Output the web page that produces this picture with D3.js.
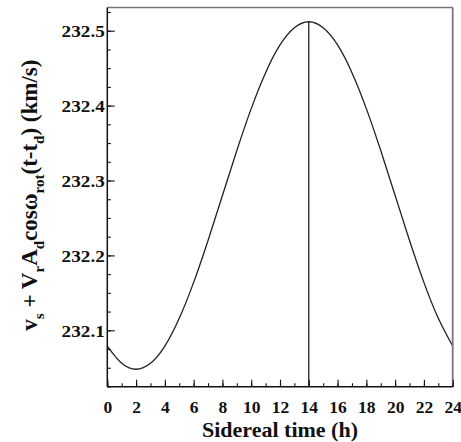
<!DOCTYPE html>
<html>
<head>
<meta charset="utf-8">
<script src="https://cdn.jsdelivr.net/npm/d3@7"></script>
<style>
  html, body { margin: 0; padding: 0; background: #fff; }
  svg { display: block; }
  text { font-family: "Liberation Serif", "Times New Roman", serif; font-weight: bold; fill: #111; }
</style>
</head>
<body>
<svg id="chart" width="461" height="442"></svg>
<script>
// Data (sidereal hour -> velocity, km/s)
const hours = [0, 1, 2, 3, 4, 5, 6, 7, 8, 9, 10, 11, 12, 13, 14, 15, 16, 17, 18, 19, 20, 21, 22, 23, 24];
const velocity = [232.079, 232.056, 232.048, 232.056, 232.079, 232.116, 232.164, 232.220, 232.280,
                  232.340, 232.396, 232.444, 232.481, 232.504, 232.512, 232.504, 232.481, 232.444,
                  232.396, 232.340, 232.280, 232.220, 232.164, 232.116, 232.079];
const peakHour = [14];
const xTickLabels = [0, 2, 4, 6, 8, 10, 12, 14, 16, 18, 20, 22, 24];
const yTickLabels = [232.1, 232.2, 232.3, 232.4, 232.5];
const xDomain = [0, 24];
const yDomain = [232.0247, 232.531];

const svg = d3.select("#chart");
const margin = { left: 107.3, top: 7.5, right: 461 - 452.7, bottom: 442 - 386.7 };
const W = 461 - margin.left - margin.right;
const H = 442 - margin.top - margin.bottom;
const g = svg.append("g").attr("transform", `translate(${margin.left},${margin.top})`);

const x = d3.scaleLinear().domain(xDomain).range([0, W]);
const y = d3.scaleLinear().domain(yDomain).range([H, 0]);

const data = hours.map((h, i) => ({ h, v: velocity[i] }));

// curve
const line = d3.line().x(d => x(d.h)).y(d => y(d.v)).curve(d3.curveNatural);
g.append("path").datum(data).attr("d", line)
  .attr("fill", "none").attr("stroke", "#222").attr("stroke-width", 1.3);

// vertical line at peak
peakHour.forEach(p => {
  const i = hours.indexOf(p);
  g.append("line").attr("x1", x(p)).attr("x2", x(p))
    .attr("y1", y(velocity[i])).attr("y2", H)
    .attr("stroke", "#111").attr("stroke-width", 1.2);
});

// frame: top and right in gray
g.append("line").attr("x1", 0).attr("x2", W).attr("y1", 0).attr("y2", 0)
  .attr("stroke", "#777").attr("stroke-width", 1.5);
g.append("line").attr("x1", W).attr("x2", W).attr("y1", 0).attr("y2", H)
  .attr("stroke", "#777").attr("stroke-width", 1.8);

// x axis
const xMinor = d3.range(xDomain[0], xDomain[1] + 1, 1);
const xAxis = g.append("g").attr("transform", `translate(0,${H})`);
xAxis.append("g").call(d3.axisBottom(x).tickValues(xMinor).tickSize(-3.5).tickFormat(""))
  .call(s => s.select(".domain").remove());
xAxis.append("g").call(d3.axisBottom(x).tickValues(xTickLabels).tickSize(-7).tickPadding(14)
    .tickFormat(d3.format("d")))
  .call(s => s.select(".domain").remove());
xAxis.append("line").attr("x1", 0).attr("x2", W).attr("stroke", "#111").attr("stroke-width", 1.5);
xAxis.selectAll("text").attr("font-size", 17.5).attr("dy", "0.71em")
  .attr("fill", "#111").attr("font-family", "Liberation Serif").attr("font-weight", "bold");
xAxis.selectAll(".tick line").attr("stroke", "#111").attr("stroke-width", 1.1);

// y axis
const yMinor = d3.range(0, 21).map(i => 232.025 + i * 0.025);
const yAxis = g.append("g");
yAxis.append("g").call(d3.axisLeft(y).tickValues(yMinor).tickSize(-3.5).tickFormat(""))
  .call(s => s.select(".domain").remove());
const yMaj = yAxis.append("g").call(d3.axisLeft(y).tickValues(yTickLabels).tickSize(-7.5).tickFormat(d3.format(".1f")))
  .call(s => s.select(".domain").remove());
yMaj.selectAll("text").remove();
yAxis.append("line").attr("y1", 0).attr("y2", H).attr("stroke", "#111").attr("stroke-width", 1.5);
yAxis.selectAll(".tick line").attr("stroke", "#111").attr("stroke-width", 1.1);
yAxis.selectAll("text.ylab").data(yTickLabels).enter().append("text")
  .attr("class", "ylab")
  .attr("transform", d => `translate(-2.5,${y(d) + 6.2}) scale(1.13,1)`)
  .attr("text-anchor", "end").attr("font-size", 17)
  .text(d => d3.format(".1f")(d));

// x title
svg.append("text").attr("x", margin.left + W / 2).attr("y", 436.5)
  .attr("text-anchor", "middle").attr("font-size", 22)
  .text("Sidereal time (h)");

// y title
const yt = svg.append("text")
  .attr("transform", `translate(37,${margin.top + H / 2 - 2}) rotate(-90)`)
  .attr("text-anchor", "middle").attr("font-size", 23);
const parts = [
  ["v", 0], ["s", 1], [" + V", -1], ["r", 1], ["A", -1], ["d", 1], ["cos\u03C9", -1], ["rot", 1],
  ["(t-t", -1], ["d", 1], [") (km/s)", -1]
];
parts.forEach(([t, mode]) => {
  const ts = yt.append("tspan").text(t);
  if (mode === 1) ts.attr("font-size", 15).attr("dy", 6.5);
  else if (mode === -1) ts.attr("dy", -6.5);
});
</script>
</body>
</html>
